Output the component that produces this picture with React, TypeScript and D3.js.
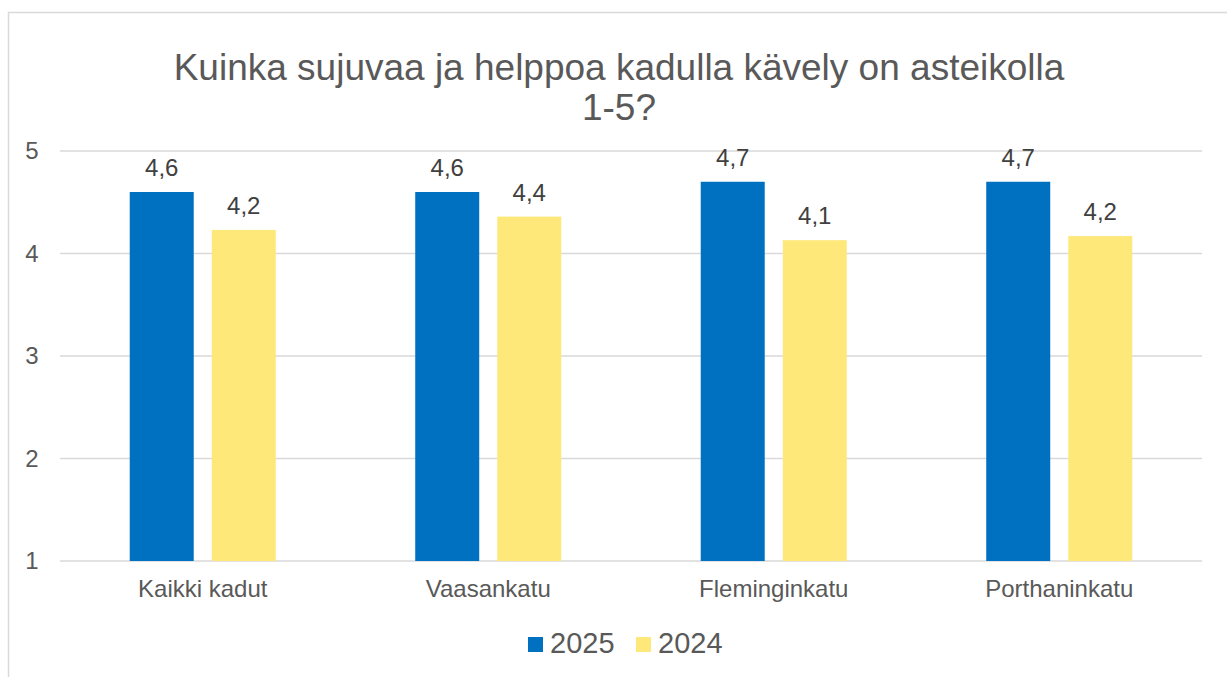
import React from "react";
import * as d3 from "d3";

const categories = ["Kaikki kadut", "Vaasankatu", "Fleminginkatu", "Porthaninkatu"];
const seriesNames = ["2025", "2024"];
const values2025 = [4.6, 4.6, 4.7, 4.7];
const values2024 = [4.23, 4.36, 4.13, 4.17];
const yTicks = [1, 2, 3, 4, 5];
const colors = ["#0070C0", "#FFE87A"];

const width = 1227, height = 677;
const marginLeft = 60, marginRight = 25, marginTop = 151, marginBottom = 116;

export default function App() {
  const font = "'Liberation Sans', Arial, sans-serif";

  const x0 = d3.scaleBand()
    .domain(categories)
    .range([marginLeft, width - marginRight])
    .paddingInner(0)
    .paddingOuter(0);

  const x1 = d3.scaleBand()
    .domain(seriesNames)
    .range([0, x0.bandwidth()])
    .paddingInner(0.22)
    .paddingOuter(0.85);

  const y = d3.scaleLinear()
    .domain([1, 5])
    .range([height - marginBottom, marginTop]);

  const series = [values2025, values2024];
  const fmt = (v: number) => v.toFixed(1).replace(".", ",");

  return (
    <svg width={width} height={height} style={{ position: "absolute", left: 0, top: 0, background: "#fff" }}
      fontFamily={font}>
      <rect x={8.5} y={12.5} width={1240} height={700} fill="#fff" stroke="#D9D9D9" strokeWidth={1.5} />

      <text x={619} y={80} textAnchor="middle" fontSize={37} fill="#595959">
        Kuinka sujuvaa ja helppoa kadulla kävely on asteikolla
      </text>
      <text x={619} y={120} textAnchor="middle" fontSize={37} fill="#595959">1-5?</text>

      {/* gridlines + y ticks */}
      {yTicks.map(t => (
        <g key={t} transform={`translate(0,${y(t)})`}>
          <line x1={marginLeft} x2={width - marginRight} stroke="#D9D9D9" strokeWidth={1.5} />
          <text x={32} dy="0.35em" textAnchor="middle" fontSize={24} fill="#595959">{t}</text>
        </g>
      ))}

      {/* bars */}
      {categories.map((c, i) => (
        <g key={c} transform={`translate(${x0(c)},0)`}>
          {seriesNames.map((s, j) => {
            const v = series[j][i];
            const bx = x1(s) as number;
            return (
              <g key={s}>
                <rect x={bx} y={y(v)} width={x1.bandwidth()} height={y(1) - y(v)} fill={colors[j]} />
                <text x={bx + x1.bandwidth() / 2} y={y(v) - 16} textAnchor="middle" fontSize={24} fill="#404040">
                  {fmt(v)}
                </text>
              </g>
            );
          })}
          <text x={x0.bandwidth() / 2} y={y(1) + 36} textAnchor="middle" fontSize={24} fill="#595959">{c}</text>
        </g>
      ))}

      {/* legend */}
      {seriesNames.map((s, j) => (
        <g key={s} transform={`translate(${528 + j * 108},0)`}>
          <rect x={0} y={637} width={15} height={15} fill={colors[j]} />
          <text x={22} y={653} fontSize={29} fill="#595959">{s}</text>
        </g>
      ))}
    </svg>
  );
}
